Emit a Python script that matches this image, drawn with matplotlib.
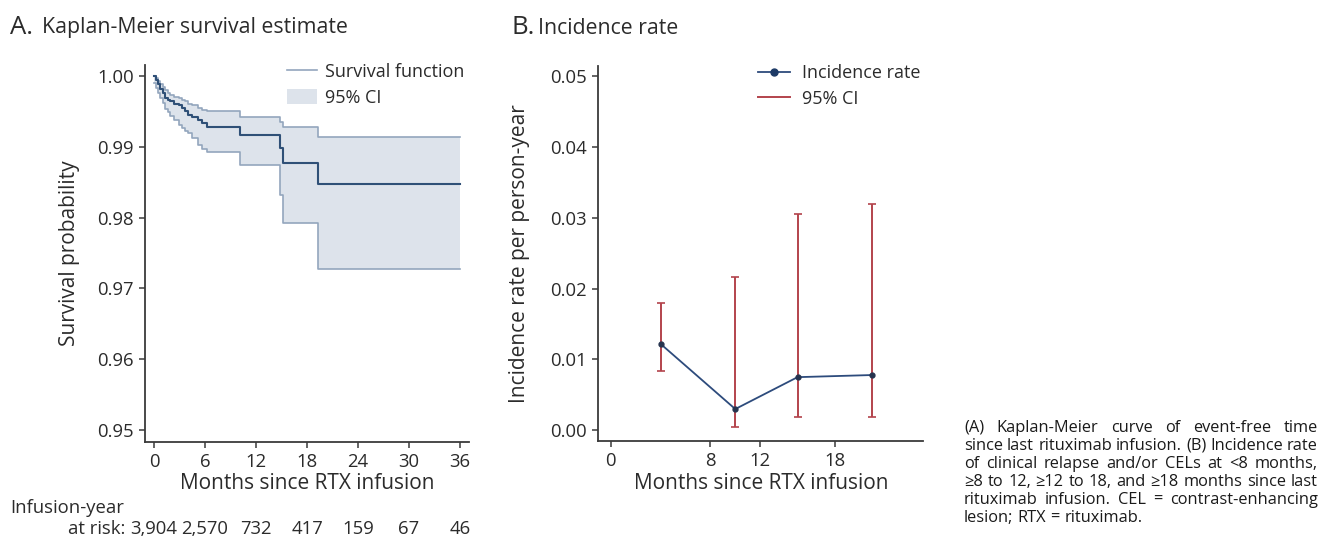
import matplotlib
matplotlib.use('Agg')
import matplotlib.pyplot as plt
import matplotlib.transforms as mtransforms
from matplotlib.lines import Line2D
from matplotlib.patches import Patch

plt.rcParams['font.family'] = ['Open Sans', 'DejaVu Sans']

# ---------------- data ----------------
km_time = [0, 0.25, 0.5, 0.75, 1.0, 1.3, 1.6, 1.9, 2.3, 2.9, 3.3, 3.6, 4.0, 4.5,
           5.2, 5.7, 6.2, 10.1, 14.8, 15.2, 19.3, 36]
km_surv = [1.0, 0.9994, 0.9988, 0.9982, 0.9976, 0.9969, 0.9966, 0.9964, 0.9961,
           0.9959, 0.9955, 0.9950, 0.9945, 0.9942, 0.9938, 0.9933, 0.9928,
           0.9917, 0.9898, 0.9877, 0.9847, 0.9847]
km_upper = [1.0, 0.9997, 0.9993, 0.9989, 0.9985, 0.9980, 0.9976, 0.9973, 0.9970,
            0.99685, 0.9966, 0.9964, 0.9961, 0.9959, 0.9955, 0.9952, 0.9950,
            0.99425, 0.99355, 0.99284, 0.99143, 0.99143]
km_lower = [0.9990, 0.9983, 0.9976, 0.9969, 0.9962, 0.9954, 0.9949, 0.9944,
            0.9938, 0.9931, 0.9926, 0.9922, 0.9919, 0.9912, 0.99025, 0.9897,
            0.98931, 0.98743, 0.9832, 0.97928, 0.97270, 0.97270]

km_ticks = [0, 6, 12, 18, 24, 30, 36]
at_risk = ['3,904', '2,570', '732', '417', '159', '67', '46']
km_yticks = [0.95, 0.96, 0.97, 0.98, 0.99, 1.00]

ir_month = [4, 10, 15, 21]
ir_rate = [0.0122, 0.0030, 0.0075, 0.0078]
ir_lower = [0.0083, 0.0004, 0.0019, 0.0019]
ir_upper = [0.0179, 0.0217, 0.0305, 0.0320]
ir_xticks = [0, 8, 12, 18]
ir_yticks = [0.00, 0.01, 0.02, 0.03, 0.04, 0.05]

caption_lines = [
    "(A) Kaplan-Meier curve of event-free time",
    "since last rituximab infusion. (B) Incidence rate",
    "of clinical relapse and/or CELs at <8 months,",
    "\u22658 to 12, \u226512 to 18, and \u226518 months since last",
    "rituximab infusion. CEL = contrast-enhancing",
    "lesion; RTX = rituximab.",
]

# ---------------- figure ----------------
W, H = 1325, 538
fig = plt.figure(figsize=(W / 100, H / 100), dpi=100)
fig.patch.set_facecolor('white')


def px_axes(left, top, right, bottom):
    return fig.add_axes([left / W, 1 - bottom / H, (right - left) / W, (bottom - top) / H])


TEXT = '#2b2b2b'
SPINE = '#3a3a3a'
TICK_FS = 13.3
LAB_FS = 15

def style(ax):
    for s in ['top', 'right']:
        ax.spines[s].set_visible(False)
    for s in ['left', 'bottom']:
        ax.spines[s].set_color(SPINE)
        ax.spines[s].set_linewidth(1.3)
    ax.tick_params(axis='both', direction='out', length=4.5, width=1.1,
                   color=SPINE, labelsize=TICK_FS, labelcolor=TEXT, pad=3.5)


# ---- Panel A ----
axA = px_axes(145, 65, 469, 441.7)
style(axA)
ci_edge = '#93a6bd'
fill_c = '#dde3eb'
line_c = '#2f5077'
axA.fill_between(km_time, km_lower, km_upper, step='post', color=fill_c, lw=0)
axA.step(km_time, km_upper, where='post', color=ci_edge, lw=1.2)
axA.step(km_time, km_lower, where='post', color=ci_edge, lw=1.2)
axA.step(km_time, km_surv, where='post', color=line_c, lw=1.5)
axA.set_xlim(-1.06, 37.06)
axA.set_ylim(0.94835, 1.00155)
axA.set_xticks(km_ticks)
axA.set_yticks(km_yticks)
axA.set_yticklabels([f'{v:.2f}' for v in km_yticks])
axA.set_xlabel('Months since RTX infusion', fontsize=LAB_FS, color=TEXT, va='baseline')
axA.xaxis.set_label_coords(0.5, -0.1264)
axA.set_ylabel('Survival probability', fontsize=LAB_FS, color=TEXT, va='center')
axA.yaxis.set_label_coords(-0.232, 0.5)

legA = axA.legend(handles=[Line2D([], [], color=ci_edge, lw=1.2),
                           Patch(facecolor=fill_c, edgecolor='none')],
                  labels=['Survival function', '95% CI'],
                  loc='upper left', bbox_to_anchor=(286.7 / W, 1 - 63 / H),
                  bbox_transform=fig.transFigure, frameon=False, fontsize=13,
                  borderpad=0, borderaxespad=0, handlelength=1.66,
                  handleheight=0.9, handletextpad=0.46, labelspacing=0.42,
                  labelcolor=TEXT)

# at-risk table
blend = mtransforms.blended_transform_factory(axA.transData, fig.transFigure)
for t, n in zip(km_ticks, at_risk):
    axA.text(t, 1 - 534 / H, n, transform=blend, ha='center', va='baseline',
             fontsize=13.3, color=TEXT)
fig.text(10 / W, 1 - 513 / H, 'Infusion-year', ha='left', va='baseline',
         fontsize=13.3, color=TEXT)
fig.text(125 / W, 1 - 534 / H, 'at risk:', ha='right', va='baseline',
         fontsize=13.3, color=TEXT)

# ---- Panel B ----
axB = px_axes(598.3, 66, 923.3, 441.3)
style(axB)
ir_line = '#2d4b7c'
ir_ci = '#b3434c'
yerr = [[r - lo for r, lo in zip(ir_rate, ir_lower)],
        [hi - r for r, hi in zip(ir_rate, ir_upper)]]
axB.errorbar(ir_month, ir_rate, yerr=yerr, fmt='none', ecolor=ir_ci,
             elinewidth=1.4, capsize=3, capthick=1.2, zorder=2)
axB.plot(ir_month, ir_rate, color=ir_line, lw=1.3, marker='o', ms=3.5,
         markerfacecolor='#26344f', markeredgecolor='#26344f', zorder=3)
axB.set_xlim(-1.0, 25.1)
axB.set_ylim(-0.00155, 0.0514)
axB.set_xticks(ir_xticks)
axB.set_yticks(ir_yticks)
axB.set_yticklabels([f'{v:.2f}' for v in ir_yticks])
axB.set_xlabel('Months since RTX infusion', fontsize=LAB_FS, color=TEXT, va='baseline')
axB.xaxis.set_label_coords(0.5, -0.128)
axB.set_ylabel('Incidence rate per person-year', fontsize=LAB_FS, color=TEXT, va='center')
axB.yaxis.set_label_coords(-0.242, 0.5)

legB = axB.legend(handles=[Line2D([], [], color=ir_line, lw=1.3, marker='o', ms=5,
                                  markerfacecolor='#1d3a66', markeredgecolor='#1d3a66'),
                           Line2D([], [], color=ir_ci, lw=1.4)],
                  labels=['Incidence rate', '95% CI'],
                  loc='upper left', bbox_to_anchor=(758 / W, 1 - 64 / H),
                  bbox_transform=fig.transFigure, frameon=False, fontsize=13,
                  borderpad=0, borderaxespad=0, handlelength=1.77,
                  handletextpad=0.65, labelspacing=0.42, labelcolor=TEXT)

# ---- panel titles ----
fig.text(10 / W, 1 - 33.5 / H, 'A.', fontsize=18.5, ha='left', va='baseline', color=TEXT)
fig.text(42.5 / W, 1 - 33.5 / H, 'Kaplan-Meier survival estimate', fontsize=15.3,
         ha='left', va='baseline', color=TEXT)
fig.text(511 / W, 1 - 33.5 / H, 'B.', fontsize=18.5, ha='left', va='baseline', color=TEXT)
fig.text(538 / W, 1 - 33.5 / H, 'Incidence rate', fontsize=15.3,
         ha='left', va='baseline', color=TEXT)

# ---- justified caption ----
renderer = fig.canvas.get_renderer()
cap_left, cap_right = 964.0, 1318.0
cap_fs = 11.8
base0 = 432.0
step = 17.9
for i, line in enumerate(caption_lines):
    words = line.split(' ')
    y = 1 - (base0 + i * step) / H
    objs = [fig.text(0, y, w, fontsize=cap_fs, ha='left', va='baseline', color='#1a1a1a',
                     family=['Open Sans', 'DejaVu Sans']) for w in words]
    widths = [o.get_window_extent(renderer=renderer).width for o in objs]
    if i < len(caption_lines) - 1 and len(words) > 1:
        gap = (cap_right - cap_left - sum(widths)) / (len(words) - 1)
    else:
        sp = fig.text(0, 0, 'a a', fontsize=cap_fs)
        sp2 = fig.text(0, 0, 'aa', fontsize=cap_fs)
        gap = sp.get_window_extent(renderer).width - sp2.get_window_extent(renderer).width
        sp.remove(); sp2.remove()
    x = cap_left
    for o, w in zip(objs, widths):
        o.set_x(x / W)
        x += w + gap

fig.savefig('out.png', dpi=100, facecolor='white')
